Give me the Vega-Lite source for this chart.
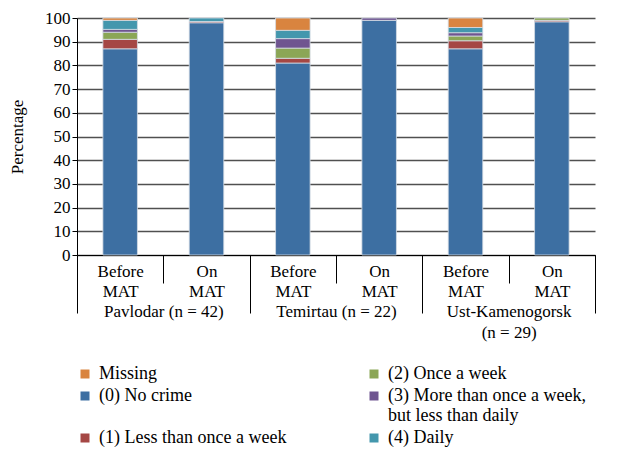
{
  "$schema": "https://vega.github.io/schema/vega-lite/v6.json",
  "width": 518,
  "height": 237,
  "autosize": {"type": "none"},
  "padding": {"left": 77, "top": 18, "right": 24, "bottom": 211},
  "background": "white",
  "config": {
    "view": {"stroke": null},
    "font": "Liberation Serif",
    "axis": {
      "labelFont": "Liberation Serif",
      "labelFontSize": 17,
      "labelColor": "black",
      "titleFont": "Liberation Serif",
      "titleFontSize": 17,
      "titleFontWeight": "normal",
      "titleColor": "black",
      "domainColor": "black",
      "tickColor": "black"
    },
    "legend": {
      "labelFont": "Liberation Serif",
      "labelFontSize": 18,
      "labelColor": "black",
      "symbolType": "square",
      "symbolSize": 81,
      "symbolStrokeWidth": 0,
      "labelOffset": 5,
      "rowPadding": 4,
      "columnPadding": 78,
      "padding": 0,
      "labelLimit": 400
    }
  },
  "data": {
    "values": [
      {"site": "Pavlodar (n = 42)", "grp": "Pavlodar|Before", "cat": "(0) No crime", "k": 0, "v": 87},
      {"site": "Pavlodar (n = 42)", "grp": "Pavlodar|Before", "cat": "(1) Less than once a week", "k": 1, "v": 4},
      {"site": "Pavlodar (n = 42)", "grp": "Pavlodar|Before", "cat": "(2) Once a week", "k": 2, "v": 3},
      {"site": "Pavlodar (n = 42)", "grp": "Pavlodar|Before", "cat": "(3) More than once a week, but less than daily", "k": 3, "v": 1.2},
      {"site": "Pavlodar (n = 42)", "grp": "Pavlodar|Before", "cat": "(4) Daily", "k": 4, "v": 3.8},
      {"site": "Pavlodar (n = 42)", "grp": "Pavlodar|Before", "cat": "Missing", "k": 5, "v": 1},
      {"site": "Pavlodar (n = 42)", "grp": "Pavlodar|On", "cat": "(0) No crime", "k": 0, "v": 98},
      {"site": "Pavlodar (n = 42)", "grp": "Pavlodar|On", "cat": "(1) Less than once a week", "k": 1, "v": 0.5},
      {"site": "Pavlodar (n = 42)", "grp": "Pavlodar|On", "cat": "(4) Daily", "k": 4, "v": 1.5},
      {"site": "Temirtau (n = 22)", "grp": "Temirtau|Before", "cat": "(0) No crime", "k": 0, "v": 81},
      {"site": "Temirtau (n = 22)", "grp": "Temirtau|Before", "cat": "(1) Less than once a week", "k": 1, "v": 2},
      {"site": "Temirtau (n = 22)", "grp": "Temirtau|Before", "cat": "(2) Once a week", "k": 2, "v": 4.3},
      {"site": "Temirtau (n = 22)", "grp": "Temirtau|Before", "cat": "(3) More than once a week, but less than daily", "k": 3, "v": 4},
      {"site": "Temirtau (n = 22)", "grp": "Temirtau|Before", "cat": "(4) Daily", "k": 4, "v": 3.5},
      {"site": "Temirtau (n = 22)", "grp": "Temirtau|Before", "cat": "Missing", "k": 5, "v": 5.2},
      {"site": "Temirtau (n = 22)", "grp": "Temirtau|On", "cat": "(0) No crime", "k": 0, "v": 99},
      {"site": "Temirtau (n = 22)", "grp": "Temirtau|On", "cat": "(3) More than once a week, but less than daily", "k": 3, "v": 1},
      {"site": "Ust-Kamenogorsk|(n = 29)", "grp": "Ust|Before", "cat": "(0) No crime", "k": 0, "v": 87},
      {"site": "Ust-Kamenogorsk|(n = 29)", "grp": "Ust|Before", "cat": "(1) Less than once a week", "k": 1, "v": 3.4},
      {"site": "Ust-Kamenogorsk|(n = 29)", "grp": "Ust|Before", "cat": "(2) Once a week", "k": 2, "v": 2},
      {"site": "Ust-Kamenogorsk|(n = 29)", "grp": "Ust|Before", "cat": "(3) More than once a week, but less than daily", "k": 3, "v": 1.4},
      {"site": "Ust-Kamenogorsk|(n = 29)", "grp": "Ust|Before", "cat": "(4) Daily", "k": 4, "v": 2.2},
      {"site": "Ust-Kamenogorsk|(n = 29)", "grp": "Ust|Before", "cat": "Missing", "k": 5, "v": 4},
      {"site": "Ust-Kamenogorsk|(n = 29)", "grp": "Ust|On", "cat": "(0) No crime", "k": 0, "v": 98.4},
      {"site": "Ust-Kamenogorsk|(n = 29)", "grp": "Ust|On", "cat": "(1) Less than once a week", "k": 1, "v": 0.6},
      {"site": "Ust-Kamenogorsk|(n = 29)", "grp": "Ust|On", "cat": "(2) Once a week", "k": 2, "v": 1}
    ]
  },
  "layer": [
    {
      "mark": {"type": "bar", "stroke": "#d5dce5", "strokeWidth": 0.8, "width": {"band": 0.4}},
      "encoding": {
        "x": {
          "field": "grp", "type": "nominal",
          "scale": {"domain": ["Pavlodar|Before", "Pavlodar|On", "Temirtau|Before", "Temirtau|On", "Ust|Before", "Ust|On"], "paddingInner": 0, "paddingOuter": 0},
          "axis": {"title": null, "orient": "bottom", "tickBand": "extent", "tickSize": 28, "labelPadding": -20, "labelAngle": 0, "labelBaseline": "top", "labelLineHeight": 20, "labelOverlap": false, "labelExpr": "datum.value == null ? '' : (indexof('' + datum.value, 'Before') >= 0 ? ['Before', 'MAT'] : ['On', 'MAT'])"}
        },
        "y": {
          "field": "v", "type": "quantitative", "stack": "zero",
          "scale": {"domain": [0, 100], "nice": false},
          "axis": {"title": "Percentage", "values": [0, 10, 20, 30, 40, 50, 60, 70, 80, 90, 100], "tickSize": 5, "labelPadding": 2, "grid": true, "gridColor": "#505050", "gridWidth": 1.3, "titlePadding": 18}
        },
        "color": {
          "field": "cat", "type": "nominal",
          "scale": {"domain": ["(0) No crime", "(1) Less than once a week", "(2) Once a week", "(3) More than once a week, but less than daily", "(4) Daily", "Missing"], "range": ["#3d6fa2", "#a54744", "#8ba656", "#6f5590", "#4497ad", "#d9843f"]},
          "legend": {
            "title": null, "orient": "none", "legendX": -1, "legendY": 347, "columns": 2,
            "values": ["Missing", "(0) No crime", "(1) Less than once a week", "(2) Once a week", "(3) More than once a week, but less than daily", "(4) Daily"],
            "labelExpr": "indexof('' + datum.label, 'More') >= 0 ? ['(3) More than once a week,', '\u00a0\u00a0\u00a0\u00a0but less than daily'] : datum.label"
          }
        },
        "order": {"field": "k", "type": "quantitative"}
      }
    },
    {
      "mark": {"type": "text", "text": ""},
      "encoding": {
        "x": {
          "field": "site", "type": "nominal",
          "scale": {"domain": ["Pavlodar (n = 42)", "Temirtau (n = 22)", "Ust-Kamenogorsk|(n = 29)"], "paddingInner": 0, "paddingOuter": 0},
          "axis": {"title": null, "orient": "bottom", "domain": false, "tickBand": "extent", "tickSize": 58, "labelPadding": -10, "labelAngle": 0, "labelBaseline": "top", "labelLineHeight": 21, "labelOverlap": false, "labelExpr": "datum.value == null ? '' : split('' + datum.value, '|')"}
        }
      }
    }
  ],
  "resolve": {"scale": {"x": "independent"}, "axis": {"x": "independent"}}
}
